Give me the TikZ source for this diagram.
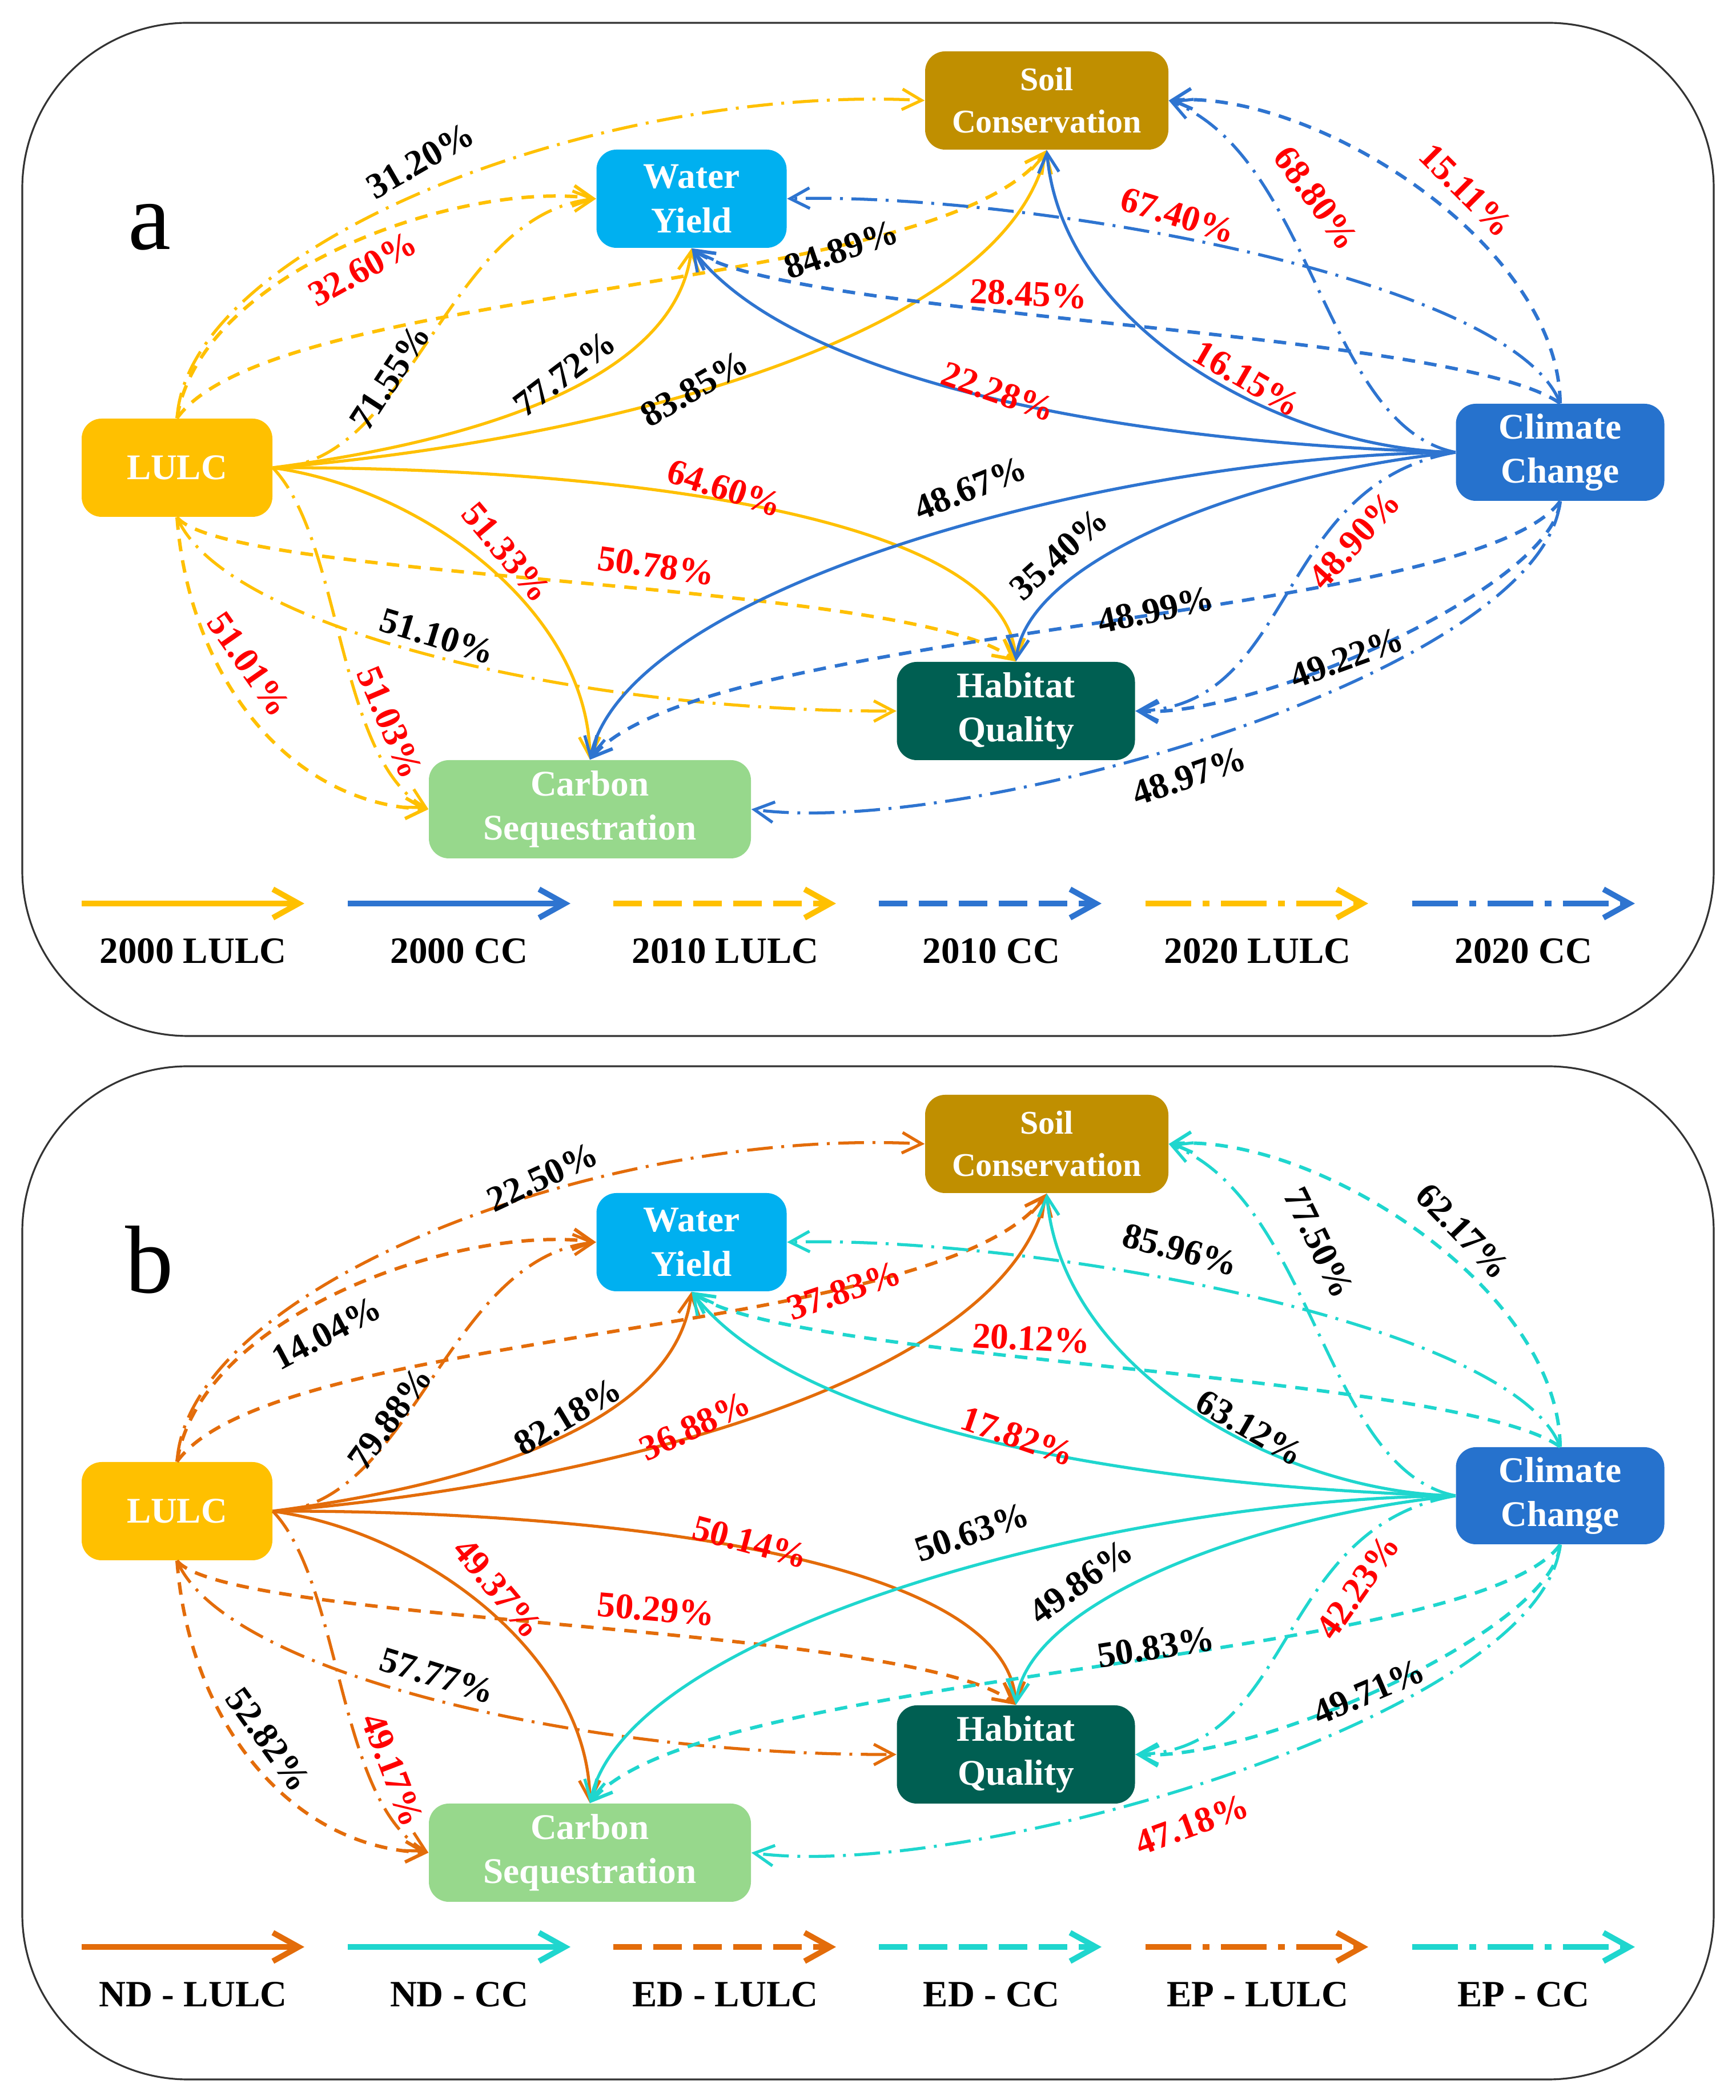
\documentclass[tikz,border=0pt]{standalone}
\usepackage{fontspec}
\setmainfont{Liberation Serif}
\usetikzlibrary{arrows.meta}
\definecolor{lulcA}{HTML}{FFC000}
\definecolor{ccA}{HTML}{2E74D0}
\definecolor{lulcB}{HTML}{E36C0A}
\definecolor{ccB}{HTML}{1FD6CE}
\definecolor{wyfill}{HTML}{00B0F0}
\definecolor{scfill}{HTML}{C08F00}
\definecolor{ccfill}{HTML}{2672CD}
\definecolor{hqfill}{HTML}{005F52}
\definecolor{csfill}{HTML}{97D88C}
\definecolor{pctred}{HTML}{FF0000}

\begin{document}
\begin{tikzpicture}
\tikzstyle{box}=[rounded corners=0.35cm, minimum height=1.72cm, text=white, align=center, inner sep=0pt, font=\fontsize{18}{22}\selectfont\bfseries]
\tikzstyle{pct}=[inner sep=1pt, font=\fontsize{18}{20}\selectfont\bfseries]
\tikzstyle{redpct}=[pct, text=pctred]
\tikzstyle{link}=[line width=1.5pt, -{Straight Barb[length=3.4mm,width=3.6mm]}]
\tikzstyle{dashlink}=[link, line width=1.7pt, dash pattern=on 0.22cm off 0.16cm]
\tikzstyle{dotlink}=[link, line width=1.5pt, dash pattern=on 0.45cm off 0.15cm on 0.05cm off 0.15cm]
\tikzstyle{keyline}=[line width=2.8pt, -{Straight Barb[length=4.5mm,width=5mm]}]
\tikzstyle{keydash}=[keyline, dash pattern=on 0.5cm off 0.2cm]
\tikzstyle{keydot}=[keyline, dash pattern=on 0.8cm off 0.2cm on 0.12cm off 0.2cm]
\tikzstyle{keytext}=[font=\fontsize{18.5}{20}\selectfont\bfseries]
\tikzstyle{panel}=[draw=black!80, line width=0.9pt, rounded corners=2.9cm]

\useasboundingbox (0,0) rectangle (30.39,36.77);

\foreach \dy/\lc/\cc/\p/\keys in {0/lulcA/ccA/a/{2000 LULC,2000 CC,2010 LULC,2010 CC,2020 LULC,2020 CC},
  -18.27/lulcB/ccB/b/{ND - LULC,ND - CC,ED - LULC,ED - CC,EP - LULC,EP - CC}}{
\begin{scope}[yshift=\dy cm]
\draw[panel] (0.39,18.63) rectangle (30.01,36.37);
\node[anchor=base, font=\fontsize{48}{48}\selectfont] (tag\p) at (2.62,32.40) {\p};

\node[box, fill=lulcA, minimum width=3.34cm] (lulc\p) at (3.10,28.58) {LULC};
\node[box, fill=wyfill, minimum width=3.33cm] (wy\p) at (12.11,33.29) {Water\\Yield};
\node[box, fill=scfill, minimum width=4.26cm, font=\fontsize{16.5}{21}\selectfont\bfseries] (sc\p) at (18.33,35.01) {Soil\\Conservation};
\node[box, fill=ccfill, minimum width=3.65cm, minimum height=1.70cm] (cc\p) at (27.32,28.85) {Climate\\Change};
\node[box, fill=hqfill, minimum width=4.17cm] (hq\p) at (17.79,24.32) {Habitat\\Quality};
\node[box, fill=csfill, minimum width=5.64cm] (cs\p) at (10.33,22.60) {Carbon\\Sequestration};

\draw[link, draw=\lc] (lulc\p.east) .. controls (8.0,29.0) and (11.8,30.0) .. (wy\p.south);
\draw[link, draw=\lc] (lulc\p.east) .. controls (10.0,29.0) and (17.5,30.7) .. (sc\p.south);
\draw[link, draw=\lc] (lulc\p.east) .. controls (10.0,28.6) and (17.6,27.9) .. (hq\p.north);
\draw[link, draw=\lc] (lulc\p.east) .. controls (7.5,28.2) and (10.3,26.0) .. (cs\p.north);
\draw[dashlink, draw=\lc] (lulc\p.north) .. controls (3.5,32.0) and (8.0,33.6) .. (wy\p.west);
\draw[dashlink, draw=\lc] (lulc\p.north) .. controls (4.8,31.8) and (16.5,31.6) .. (sc\p.south);
\draw[dashlink, draw=\lc] (lulc\p.south) .. controls (4.0,26.6) and (16.0,26.6) .. (hq\p.north);
\draw[dashlink, draw=\lc] (lulc\p.south) .. controls (3.3,25.0) and (5.0,22.7) .. (cs\p.west);
\draw[dotlink, draw=\lc] (lulc\p.north) .. controls (3.3,32.5) and (10.5,35.3) .. (sc\p.west);
\draw[dotlink, draw=\lc] (lulc\p.east) .. controls (7.2,28.6) and (7.8,33.0) .. (wy\p.west);
\draw[dotlink, draw=\lc] (lulc\p.south) .. controls (3.9,25.8) and (10.0,24.3) .. (hq\p.west);
\draw[dotlink, draw=\lc] (lulc\p.east) .. controls (6.0,27.3) and (5.9,23.5) .. (cs\p.west);

\draw[link, draw=\cc] (cc\p.west) .. controls (20.0,29.0) and (14.0,30.0) .. (wy\p.south);
\draw[link, draw=\cc] (cc\p.west) .. controls (22.5,28.9) and (18.6,31.0) .. (sc\p.south);
\draw[link, draw=\cc] (cc\p.west) .. controls (22.0,28.5) and (18.0,27.0) .. (hq\p.north);
\draw[link, draw=\cc] (cc\p.west) .. controls (19.5,28.8) and (11.0,26.5) .. (cs\p.north);
\draw[dashlink, draw=\cc] (cc\p.north) .. controls (27.3,32.5) and (23.0,35.2) .. (sc\p.east);
\draw[dashlink, draw=\cc] (cc\p.north) .. controls (25.5,31.0) and (13.8,31.2) .. (wy\p.south);
\draw[dashlink, draw=\cc] (cc\p.south) .. controls (27.2,26.5) and (22.0,24.2) .. (hq\p.east);
\draw[dashlink, draw=\cc] (cc\p.south) .. controls (25.8,25.9) and (12.3,25.8) .. (cs\p.north);
\draw[dotlink, draw=\cc] (cc\p.west) .. controls (23.2,29.3) and (23.0,34.0) .. (sc\p.east);
\draw[dotlink, draw=\cc] (cc\p.north) .. controls (26.5,31.9) and (18.0,33.4) .. (wy\p.east);
\draw[dotlink, draw=\cc] (cc\p.west) .. controls (22.3,28.3) and (22.7,24.4) .. (hq\p.east);
\draw[dotlink, draw=\cc] (cc\p.south) .. controls (27.0,25.0) and (17.0,22.1) .. (cs\p.east);

\draw[keyline, draw=\lc] (1.43,20.95) -- ++(3.9,0);
\draw[keyline, draw=\cc] (6.09,20.95) -- ++(3.9,0);
\draw[keydash, draw=\lc] (10.74,20.95) -- ++(3.9,0);
\draw[keydash, draw=\cc] (15.39,20.95) -- ++(3.9,0);
\draw[keydot, draw=\lc] (20.06,20.95) -- ++(3.9,0);
\draw[keydot, draw=\cc] (24.73,20.95) -- ++(3.9,0);
\foreach \t [count=\i] in \keys
  \node[keytext] (key\p\i) at ({3.38+4.66*(\i-1)},20.12) {\t};
\end{scope}
}

\node[pct, rotate=30] (a1) at (7.36,33.96) {31.20\%};
\node[redpct, rotate=29] (a2) at (6.35,32.06) {32.60\%};
\node[pct, rotate=57] (a3) at (6.83,30.17) {71.55\%};
\node[pct, rotate=37] (a4) at (9.89,30.23) {77.72\%};
\node[pct, rotate=30] (a5) at (12.16,29.97) {83.85\%};
\node[pct, rotate=19] (a6) at (14.73,32.40) {84.89\%};
\node[redpct, rotate=-18] (a7) at (12.69,28.22) {64.60\%};
\node[redpct, rotate=-50] (a8) at (8.87,27.10) {51.33\%};
\node[redpct, rotate=-8] (a9) at (11.49,26.86) {50.78\%};
\node[pct, rotate=-17] (a10) at (7.66,25.63) {51.10\%};
\node[redpct, rotate=-55] (a11) at (4.36,25.14) {51.01\%};
\node[redpct, rotate=-67] (a12) at (6.83,24.12) {51.03\%};
\node[redpct, rotate=-54] (a13) at (23.05,33.30) {68.80\%};
\node[redpct, rotate=-45] (a14) at (25.67,33.44) {15.11\%};
\node[redpct, rotate=-17] (a15) at (20.63,33.00) {67.40\%};
\node[redpct, rotate=-3] (a16) at (18.01,31.62) {28.45\%};
\node[redpct, rotate=-30] (a17) at (21.84,30.14) {16.15\%};
\node[redpct, rotate=-19] (a18) at (17.48,29.91) {22.28\%};
\node[pct, rotate=22] (a19) at (16.99,28.22) {48.67\%};
\node[pct, rotate=42] (a20) at (18.54,27.07) {35.40\%};
\node[pct, rotate=12] (a21) at (20.24,26.09) {48.99\%};
\node[redpct, rotate=48] (a22) at (23.72,27.32) {48.90\%};
\node[pct, rotate=20] (a23) at (23.58,25.25) {49.22\%};
\node[pct, rotate=19] (a24) at (20.82,23.18) {48.97\%};

\begin{scope}[yshift=-18.27cm]
\node[pct, rotate=25] (b1) at (9.50,34.43) {22.50\%};
\node[pct, rotate=28] (b2) at (5.72,31.70) {14.04\%};
\node[pct, rotate=54] (b3) at (6.83,30.21) {79.88\%};
\node[pct, rotate=31] (b4) at (9.94,30.24) {82.18\%};
\node[redpct, rotate=25] (b5) at (12.17,30.07) {36.88\%};
\node[redpct, rotate=19] (b6) at (14.78,32.44) {37.83\%};
\node[redpct, rotate=-15] (b7) at (13.14,28.04) {50.14\%};
\node[redpct, rotate=-50] (b8) at (8.72,27.23) {49.37\%};
\node[redpct, rotate=-5] (b9) at (11.49,26.86) {50.29\%};
\node[pct, rotate=-17] (b10) at (7.66,25.70) {57.77\%};
\node[pct, rotate=-54] (b11) at (4.70,24.58) {52.82\%};
\node[redpct, rotate=-69] (b12) at (6.88,24.05) {49.17\%};
\node[pct, rotate=-64] (b13) at (23.10,33.28) {77.50\%};
\node[pct, rotate=-46] (b14) at (25.62,33.48) {62.17\%};
\node[pct, rotate=-15] (b15) at (20.67,33.16) {85.96\%};
\node[redpct, rotate=-3] (b16) at (18.06,31.60) {20.12\%};
\node[pct, rotate=-30] (b17) at (21.89,30.04) {63.12\%};
\node[redpct, rotate=-19] (b18) at (17.82,29.89) {17.82\%};
\node[pct, rotate=19] (b19) at (17.02,28.21) {50.63\%};
\node[pct, rotate=36] (b20) at (18.93,27.35) {49.86\%};
\node[pct, rotate=9] (b21) at (20.24,26.20) {50.83\%};
\node[redpct, rotate=55] (b22) at (23.78,27.26) {42.23\%};
\node[pct, rotate=23] (b23) at (23.97,25.42) {49.71\%};
\node[redpct, rotate=20] (b24) at (20.87,23.09) {47.18\%};
\end{scope}
\end{tikzpicture}
\end{document}
